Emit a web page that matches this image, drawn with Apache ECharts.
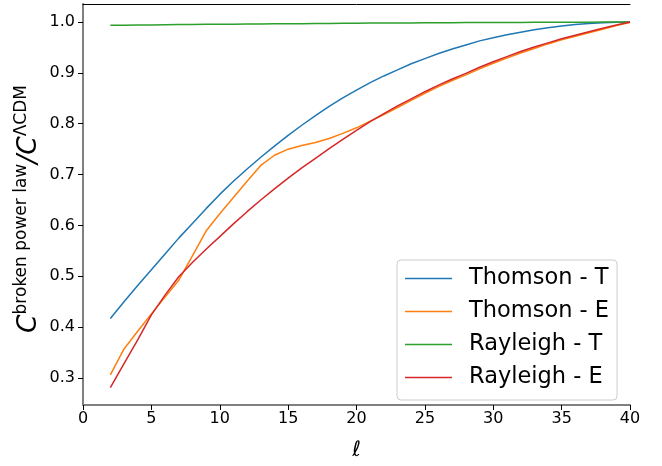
<!DOCTYPE html>
<html>
<head>
<meta charset="utf-8">
<script src="https://cdn.jsdelivr.net/npm/echarts@6/dist/echarts.min.js"></script>
<style>
  html, body { margin: 0; padding: 0; background: #fff; }
  #container { width: 662px; height: 466px; }
</style>
</head>
<body>
<div id="container"></div>
<script>
// multipoles
var ells = [2, 3, 4, 5, 6, 7, 8, 9, 10, 11, 12, 13, 14, 15, 16, 17, 18, 19, 20, 21,
    22, 23, 24, 25, 26, 27, 28, 29, 30, 31, 32, 33, 34, 35, 36, 37, 38, 39, 40];

// ratio C^{broken power law} / C^{LCDM}
var thomsonT = [0.417, 0.450, 0.482, 0.513, 0.544, 0.575, 0.604, 0.633, 0.661, 0.687,
    0.711, 0.734, 0.756, 0.777, 0.797, 0.816, 0.834, 0.851, 0.866, 0.881,
    0.894, 0.906, 0.918, 0.928, 0.938, 0.947, 0.955, 0.963, 0.969, 0.975,
    0.980, 0.985, 0.989, 0.992, 0.995, 0.997, 0.9985, 0.9995, 1.0];
var thomsonE = [0.306, 0.357, 0.392, 0.426, 0.459, 0.492, 0.540, 0.589, 0.623, 0.655,
    0.687, 0.718, 0.738, 0.750, 0.757, 0.763, 0.771, 0.781, 0.792, 0.805,
    0.818, 0.832, 0.846, 0.860, 0.873, 0.885, 0.896, 0.908, 0.919, 0.929,
    0.939, 0.948, 0.957, 0.965, 0.972, 0.979, 0.986, 0.993, 0.999];
var rayleighT = [0.9935, 0.9938, 0.9941, 0.9944, 0.9947, 0.9950, 0.9952, 0.9955, 0.9957, 0.9959,
    0.9961, 0.9963, 0.9965, 0.9967, 0.9969, 0.9971, 0.9973, 0.9975, 0.9977, 0.9979,
    0.9980, 0.9982, 0.9983, 0.9985, 0.9986, 0.9987, 0.9989, 0.9990, 0.9991, 0.9992,
    0.9993, 0.9994, 0.9995, 0.9996, 0.9997, 0.9998, 0.9999, 0.9999, 1.0];
var rayleighE = [0.281, 0.328, 0.375, 0.424, 0.463, 0.499, 0.527, 0.553, 0.578, 0.603,
    0.627, 0.650, 0.672, 0.693, 0.713, 0.732, 0.751, 0.769, 0.787, 0.804,
    0.820, 0.835, 0.849, 0.863, 0.876, 0.888, 0.899, 0.911, 0.922, 0.932,
    0.942, 0.951, 0.959, 0.967, 0.974, 0.981, 0.988, 0.994, 1.0];

var seriesNames = ['Thomson - T', 'Thomson - E', 'Rayleigh - T', 'Rayleigh - E'];
var yTicks = [0.3, 0.4, 0.5, 0.6, 0.7, 0.8, 0.9, 1.0];

var FONT = 'DejaVu Sans';

function pairs(ys) {
    var out = [];
    for (var i = 0; i < ells.length; i++) out.push([ells[i], ys[i]]);
    return out;
}

var dom = document.getElementById('container');
var myChart = echarts.init(dom, null, { renderer: 'canvas' });

var colors = ['#1f77b4', '#ff7f0e', '#2ca02c', '#d62728'];
var allData = [thomsonT, thomsonE, rayleighT, rayleighE];

var series = [];
for (var k = 0; k < 4; k++) {
    series.push({
        name: seriesNames[k],
        type: 'line',
        data: pairs(allData[k]),
        symbol: 'none',
        smooth: false,
        color: colors[k],
        lineStyle: { width: 1.5, color: colors[k] }
    });
}

var option = {
    animation: false,
    backgroundColor: '#fff',
    grid: { left: 83, right: 32, top: 4, bottom: 55, containLabel: false },
    xAxis: [{
        type: 'value',
        min: 0, max: 40, interval: 5,
        name: 'ℓ',
        nameLocation: 'middle',
        nameGap: 35,
        nameTextStyle: { fontFamily: FONT, fontSize: 21, fontStyle: 'italic', color: '#000' },
        axisLine: { lineStyle: { color: '#808080', width: 2 } },
        axisTick: { length: 5, lineStyle: { color: '#000', width: 1 } },
        axisLabel: { margin: 6, fontFamily: FONT, fontSize: 16, color: '#000' },
        splitLine: { show: false }
    }, {
        type: 'value', position: 'top',
        min: 0, max: 40,
        axisLine: { lineStyle: { color: '#000', width: 1 } },
        axisTick: { show: false }, axisLabel: { show: false }, splitLine: { show: false }
    }],
    yAxis: [{
        type: 'value',
        min: 0.2468, max: 1.0355,
        axisLine: { show: true, lineStyle: { color: '#000', width: 1 } },
        axisTick: { show: true, length: 5, customValues: yTicks, lineStyle: { color: '#000' } },
        axisLabel: {
            margin: 8, fontFamily: FONT, fontSize: 16, color: '#000',
            customValues: yTicks,
            formatter: function (v) { return v.toFixed(1); }
        },
        splitLine: { show: false }
    }, {
        type: 'value', position: 'right',
        min: 0.2468, max: 1.0355,
        axisLine: { show: true, lineStyle: { color: '#808080', width: 2 } },
        axisTick: { show: false }, axisLabel: { show: false }, splitLine: { show: false }
    }],
    legend: {
        orient: 'vertical',
        left: 397, top: 260,
        data: seriesNames,
        icon: 'rect',
        backgroundColor: 'rgba(255,255,255,0.8)',
        borderColor: '#cccccc', borderWidth: 1, borderRadius: 4,
        padding: [2, 8, 6, 8],
        itemWidth: 47, itemHeight: 1.6, itemGap: 0,
        textStyle: { fontFamily: FONT, fontSize: 22.5, lineHeight: 33, color: '#000', padding: [0, 0, 0, 12] }
    },
    graphic: [{
        type: 'text',
        x: 28, y: 209,
        rotation: Math.PI / 2,
        style: {
            text: '{c|C}{s|broken power law}{c|/C}{s|ΛCDM}',
            align: 'center',
            verticalAlign: 'middle',
            fill: '#000',
            rich: {
                c: { fontFamily: FONT, fontSize: 26.5, fontStyle: 'italic', lineHeight: 30, verticalAlign: 'bottom', fill: '#000' },
                s: { fontFamily: FONT, fontSize: 17, lineHeight: 17, verticalAlign: 'top', fill: '#000' }
            }
        }
    }],
    series: series
};
myChart.setOption(option, true);
</script>
</body>
</html>
